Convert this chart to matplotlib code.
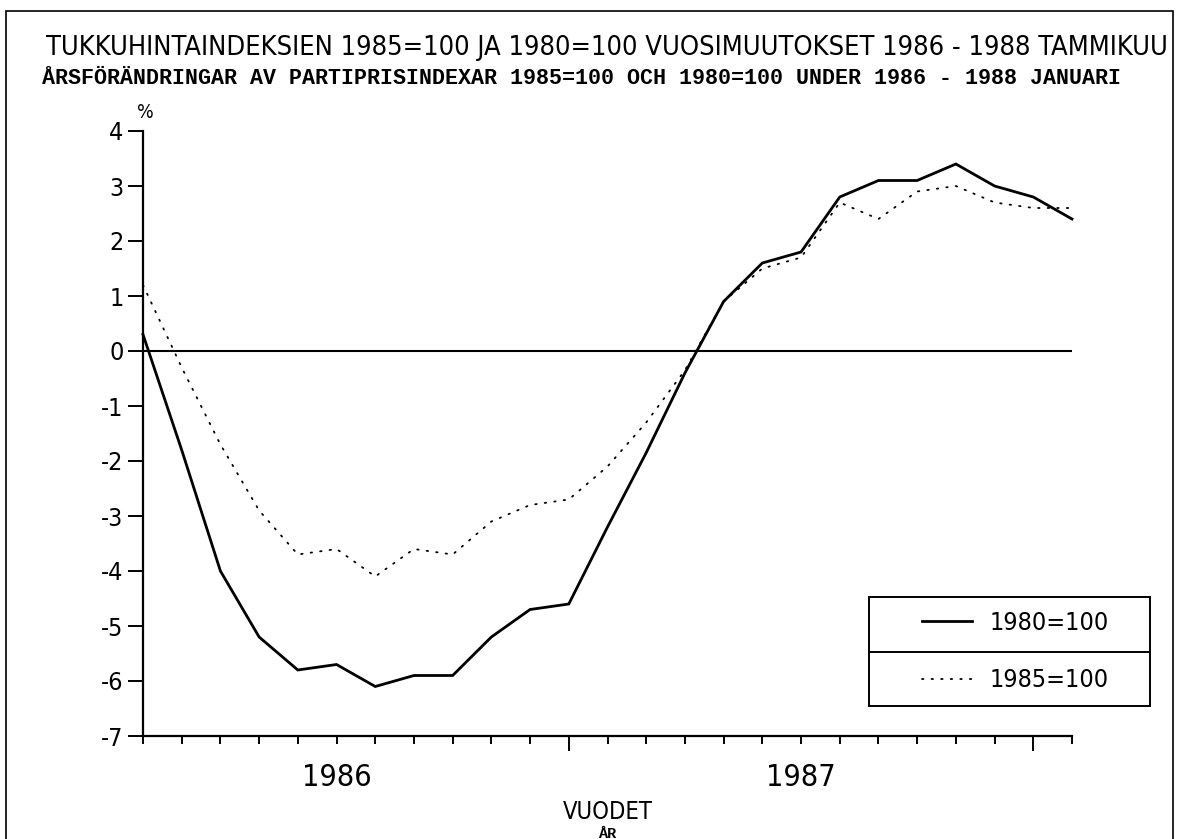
import matplotlib
matplotlib.use("Agg")
import matplotlib.pyplot as plt
from matplotlib import font_manager
from matplotlib.lines import Line2D
from matplotlib.patches import Rectangle

# Kuukaudet: tammikuu 1986 ... tammikuu 1988
months = list(range(25))
idx_1980 = [0.3, -1.8, -4.0, -5.2, -5.8, -5.7, -6.1, -5.9, -5.9, -5.2, -4.7, -4.6,
            -3.2, -1.85, -0.4, 0.9, 1.6, 1.8, 2.8, 3.1, 3.1, 3.4, 3.0, 2.8, 2.4]
idx_1985 = [1.2, -0.3, -1.7, -2.9, -3.7, -3.6, -4.1, -3.6, -3.7, -3.1, -2.8, -2.7,
            -2.1, -1.3, -0.35, 0.9, 1.5, 1.7, 2.7, 2.4, 2.9, 3.0, 2.7, 2.6, 2.6]
series_labels = ["1980=100", "1985=100"]
y_ticks = [-7, -6, -5, -4, -3, -2, -1, 0, 1, 2, 3, 4]
year_labels = ["1986", "1987"]
year_pos = [5, 17]
major_pos = [11, 23]

title_fi = "TUKKUHINTAINDEKSIEN 1985=100 JA 1980=100 VUOSIMUUTOKSET 1986 - 1988 TAMMIKUU"
title_sv = "ÅRSFÖRÄNDRINGAR AV PARTIPRISINDEXAR 1985=100 OCH 1980=100 UNDER 1986 - 1988 JANUARI"

# kapea fontti jos löytyy
names = {f.name for f in font_manager.fontManager.ttflist}
if "Liberation Sans Narrow" in names:
    NARROW = dict(family="Liberation Sans Narrow")
else:
    NARROW = dict(family="DejaVu Sans", stretch="condensed")
MONO = dict(family="Liberation Mono", weight="bold")

W, H = 1183, 839
fig = plt.figure(figsize=(W / 100, H / 100), dpi=100)


def px(x, y):
    return x / W, 1 - y / H


ax = fig.add_axes([143 / W, 1 - 736 / H, (1072 - 143) / W, (736 - 131) / H])
ax.set_xlim(0, 24)
ax.set_ylim(-7, 4)

ax.plot(months, idx_1980, color="black", lw=2.0, clip_on=False, solid_joinstyle="miter")
ax.plot(months, idx_1985, color="black", lw=1.3, linestyle=(0, (0.8, 4.5)),
        dash_capstyle="round", clip_on=False)
ax.axhline(0, color="black", lw=1.5)

for side in ["top", "right"]:
    ax.spines[side].set_visible(False)
ax.spines["left"].set_linewidth(1.6)
ax.spines["bottom"].set_linewidth(1.6)

ax.set_yticks(y_ticks)
ax.set_yticklabels([str(v) for v in y_ticks], fontsize=18, **NARROW)
ax.tick_params(axis="y", length=11, width=1.4, pad=3)

ax.set_xticks(major_pos)
ax.set_xticklabels([])
ax.set_xticks([m for m in months if m not in major_pos], minor=True)
ax.tick_params(axis="x", which="major", length=11, width=1.4)
ax.tick_params(axis="x", which="minor", length=6, width=1.4)

xt = ax.get_xaxis_transform()
for pos, lab in zip(year_pos, year_labels):
    ax.text(pos, -0.069, lab, transform=xt, ha="center", va="center", fontsize=22, **NARROW)
ax.text(12, -0.126, "VUODET", transform=xt, ha="center", va="center", fontsize=17, **NARROW)
ax.text(12, -0.162, "ÅR", transform=xt, ha="center", va="center", fontsize=11,
        family="Liberation Mono", weight="bold")
ax.text(0.05, 1.031, "%", transform=xt, ha="center", va="center", fontsize=14, **NARROW)

# otsikot sovitetaan leveyteen
renderer = fig.canvas.get_renderer()


def fit(x0, x1, yc, txt, props):
    t = fig.text(*px(x0, yc), txt, ha="left", va="center", fontsize=20, **props)
    w = t.get_window_extent(renderer).width
    t.set_fontsize(20 * (x1 - x0) / w)
    return t


fit(46, 1168, 48, title_fi, NARROW)
fit(42, 1118, 78, title_sv, MONO)

# selite
box_l, box_r, box_t, box_b = 869, 1150, 597, 706
handles = [Line2D([], [], color="black", lw=2.0),
           Line2D([], [], color="black", lw=1.3, linestyle=(0, (0.8, 4.5)), dash_capstyle="round")]
cx, cy = px((box_l + box_r) / 2 + 6, (box_t + box_b) / 2)
fig.legend(handles, series_labels, loc="center", bbox_to_anchor=(cx, cy), frameon=False,
           handlelength=2.0, handletextpad=0.7, labelspacing=1.35,
           prop=font_manager.FontProperties(size=18, **NARROW))
fig.add_artist(Rectangle(px(box_l, box_b), (box_r - box_l) / W, (box_b - box_t) / H,
                         transform=fig.transFigure, fill=False, lw=1.4, ec="black"))
fig.add_artist(Line2D([box_l / W, box_r / W], [1 - 652 / H, 1 - 652 / H],
                      transform=fig.transFigure, color="black", lw=1.4))

# kehys
fig.add_artist(Rectangle((6 / W, -0.05), (1173 - 6) / W, 1.05 - 11 / H,
                         transform=fig.transFigure, fill=False, lw=1.2, ec="black",
                         clip_on=False))

fig.savefig("out.png", dpi=100)
